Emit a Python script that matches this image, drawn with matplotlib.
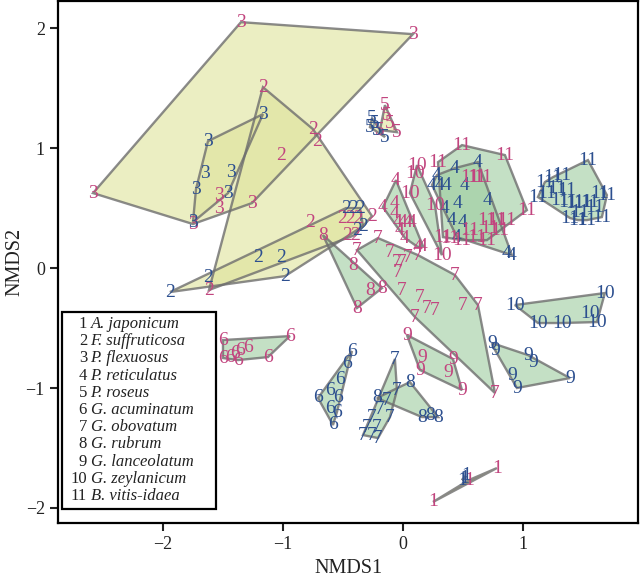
import numpy as np
import matplotlib
matplotlib.use('Agg')
import matplotlib.pyplot as plt
from matplotlib.patches import Polygon, Rectangle

plt.rcParams['font.family'] = ['Liberation Serif', 'DejaVu Serif']

# NMDS scores (x, y), one list per species and per sample group
sp1_pink = [(0.25, -1.95), (0.55, -1.767), (0.783, -1.667)]
sp1_blue = [(0.492, -1.767), (0.525, -1.733), (0.51, -1.75)]
sp2_pink = [(-1.167, 1.508), (-0.75, 1.158), (-0.717, 1.058), (-1.017, 0.942), (-0.775, 0.383),
            (-0.508, 0.417), (-0.442, 0.417), (-0.375, 0.417), (-0.258, 0.433), (-0.467, 0.275),
            (-0.4, 0.275), (-1.617, -0.183)]
sp2_blue = [(-1.942, -0.2), (-1.625, -0.075), (-1.208, 0.092), (-1.017, 0.092), (-0.983, -0.067),
            (-0.475, 0.5), (-0.417, 0.5), (-0.358, 0.5), (-0.333, 0.35), (-0.383, 0.317)]
sp3_pink = [(-1.35, 2.05), (0.083, 1.95), (-2.583, 0.625), (-1.258, 0.542), (-1.533, 0.608),
            (-1.533, 0.5), (-1.75, 0.367)]
sp3_blue = [(-1.167, 1.283), (-1.625, 1.058), (-1.65, 0.792), (-1.725, 0.658), (-1.433, 0.8),
            (-1.458, 0.625), (-1.75, 0.383)]
sp4_pink = [(-0.058, 0.733), (-0.167, 0.508), (-0.067, 0.542), (-0.067, 0.458), (-0.042, 0.383),
            (0.0, 0.383), (0.042, 0.383), (0.075, 0.383), (-0.025, 0.317), (0.017, 0.25),
            (0.125, 0.175), (0.167, 0.183)]
sp4_blue = [(0.433, 0.833), (0.625, 0.883), (0.283, 0.775), (0.242, 0.692), (0.308, 0.692),
            (0.367, 0.692), (0.517, 0.692), (0.708, 0.567), (0.35, 0.5), (0.458, 0.542),
            (0.408, 0.4), (0.5, 0.383), (0.45, 0.258), (0.867, 0.125), (0.908, 0.108)]
sp5_pink = [(-0.15, 1.358), (-0.133, 1.275), (-0.108, 1.208), (-0.05, 1.133), (-0.192, 1.15)]
sp5_blue = [(-0.258, 1.25), (-0.233, 1.208), (-0.217, 1.15), (-0.15, 1.092), (-0.275, 1.175)]
sp6_pink = [(-1.5, -0.6), (-0.942, -0.567), (-1.5, -0.75), (-1.442, -0.742), (-1.4, -0.708),
            (-1.358, -0.683), (-1.292, -0.658), (-1.375, -0.767), (-1.125, -0.742)]
sp6_blue = [(-0.425, -0.692), (-0.467, -0.792), (-0.525, -0.933), (-0.608, -1.017), (-0.542, -1.075),
            (-0.708, -1.083), (-0.608, -1.167), (-0.55, -1.2), (-0.583, -1.308)]
sp7_pink = [(-0.208, 0.25), (-0.383, 0.15), (-0.108, 0.133), (-0.05, 0.05), (-0.008, 0.05),
            (0.042, 0.092), (0.125, 0.108), (-0.042, -0.033), (0.433, -0.058), (-0.008, -0.183),
            (0.142, -0.242), (0.2, -0.333), (0.267, -0.35), (0.1, -0.408), (0.5, -0.308),
            (0.625, -0.308), (0.767, -1.042)]
sp7_blue = [(-0.067, -0.758), (-0.05, -1.017), (-0.133, -1.1), (-0.192, -1.183), (-0.108, -1.242),
            (-0.258, -1.242), (-0.3, -1.325), (-0.217, -1.325), (-0.333, -1.392), (-0.208, -1.417),
            (-0.258, -1.392)]
sp8_pink = [(-0.667, 0.275), (-0.417, 0.025), (-0.275, -0.183), (-0.175, -0.167), (-0.383, -0.333)]
sp8_blue = [(0.058, -0.95), (-0.217, -1.083), (0.158, -1.242), (0.225, -1.225), (0.292, -1.242)]
sp9_pink = [(0.033, -0.558), (0.158, -0.742), (0.142, -0.85), (0.375, -0.867), (0.417, -0.758),
            (0.492, -1.017)]
sp9_blue = [(0.742, -0.625), (0.767, -0.683), (1.042, -0.725), (1.083, -0.783), (1.392, -0.917),
            (0.908, -0.892), (0.95, -1.0)]
sp10_pink = [(0.117, 0.858), (0.1, 0.792), (0.058, 0.625), (0.267, 0.525), (0.325, 0.108)]
sp10_blue = [(0.933, -0.308), (1.683, -0.208), (1.125, -0.458), (1.325, -0.458), (1.558, -0.375),
             (1.617, -0.45)]
sp11_pink = [(0.492, 1.025), (0.85, 0.942), (0.292, 0.883), (0.558, 0.758), (0.617, 0.758),
             (0.667, 0.758), (1.033, 0.483), (0.7, 0.4), (0.783, 0.4), (0.867, 0.4), (0.725, 0.333),
             (0.808, 0.317), (0.333, 0.258), (0.392, 0.25), (0.492, 0.233), (0.617, 0.258),
             (0.7, 0.233), (0.558, 0.317)]
sp11_blue = [(1.542, 0.9), (1.183, 0.717), (1.25, 0.758), (1.325, 0.775), (1.125, 0.592), (1.2, 0.625),
             (1.283, 0.667), (1.367, 0.65), (1.308, 0.567), (1.375, 0.55), (1.433, 0.542), (1.5, 0.55),
             (1.558, 0.55), (1.642, 0.625), (1.7, 0.608), (1.392, 0.417), (1.458, 0.4), (1.533, 0.4),
             (1.658, 0.425), (1.6, 0.508), (1.475, 0.467)]

species_names = ['A. japonicum', 'F. suffruticosa', 'P. flexuosus', 'P. reticulatus', 'P. roseus',
                 'G. acuminatum', 'G. obovatum', 'G. rubrum', 'G. lanceolatum', 'G. zeylanicum',
                 'B. vitis-idaea']
yellow_species = [1, 2, 3, 5]

groups = [(1, sp1_pink, sp1_blue), (2, sp2_pink, sp2_blue), (3, sp3_pink, sp3_blue),
          (4, sp4_pink, sp4_blue), (5, sp5_pink, sp5_blue), (6, sp6_pink, sp6_blue),
          (7, sp7_pink, sp7_blue), (8, sp8_pink, sp8_blue), (9, sp9_pink, sp9_blue),
          (10, sp10_pink, sp10_blue), (11, sp11_pink, sp11_blue)]

PINK = '#c2457f'
BLUE = '#2c4f8f'
GREEN = '#9dcc9f'
YELLOW = '#dfe39a'


def convex_hull(pts):
    pts = sorted(set(pts))
    if len(pts) < 3:
        return pts

    def cross(o, a, b):
        return (a[0] - o[0]) * (b[1] - o[1]) - (a[1] - o[1]) * (b[0] - o[0])

    lower = []
    for p in pts:
        while len(lower) >= 2 and cross(lower[-2], lower[-1], p) <= 0:
            lower.pop()
        lower.append(p)
    upper = []
    for p in reversed(pts):
        while len(upper) >= 2 and cross(upper[-2], upper[-1], p) <= 0:
            upper.pop()
        upper.append(p)
    return lower[:-1] + upper[:-1]


fig = plt.figure(figsize=(6.41, 5.82), dpi=100)
ax = fig.add_axes([0.0905, 0.1014, 0.905, 0.8966])

# оболочки
for sp, pink, blue in groups:
    fc = YELLOW if sp in yellow_species else GREEN
    for pts in (pink, blue):
        hull = convex_hull(pts)
        if len(hull) < 3:
            continue
        ax.add_patch(Polygon(hull, closed=True, facecolor=fc, edgecolor='none', alpha=0.6, zorder=1))
        ax.add_patch(Polygon(hull, closed=True, facecolor='none', edgecolor='#6e6e6e',
                             lw=1.7, alpha=0.8, zorder=2))

# подписи точек
for sp, pink, blue in groups:
    for pts, col in ((pink, PINK), (blue, BLUE)):
        for x, y in pts:
            ax.text(x, y, str(sp), color=col, fontsize=14, ha='center', va='center', zorder=3)

ax.set_xlim(-2.875, 1.96)
ax.set_ylim(-2.125, 2.225)
ax.set_xticks([-2, -1, 0, 1])
ax.set_yticks([-2, -1, 0, 1, 2])
ax.tick_params(direction='out', length=6, width=1.5, labelsize=13, colors='#222222')
for s in ax.spines.values():
    s.set_linewidth(1.6)
ax.set_xlabel('NMDS1', fontsize=14.5, color='#222222', labelpad=4)
ax.set_ylabel('NMDS2', fontsize=14.5, color='#222222', labelpad=1)


# легенда
def fx(px):
    return (px - 58) / 580


def fy(py):
    return (523 - py) / 522


ax.add_patch(Rectangle((fx(62), fy(509)), fx(216) - fx(62), fy(312) - fy(509), transform=ax.transAxes,
                       facecolor='white', edgecolor='black', lw=1.6, zorder=5))
for i, name in enumerate(species_names):
    yy = fy(324 + i * 17.2)
    ax.text(fx(87), yy, str(i + 1), transform=ax.transAxes, fontsize=12, ha='right', va='center',
            color='#222222', zorder=6)
    ax.text(fx(90.5), yy, name, transform=ax.transAxes, fontsize=12, ha='left', va='center',
            style='italic', color='#222222', zorder=6)

fig.savefig('out.png', dpi=100)
